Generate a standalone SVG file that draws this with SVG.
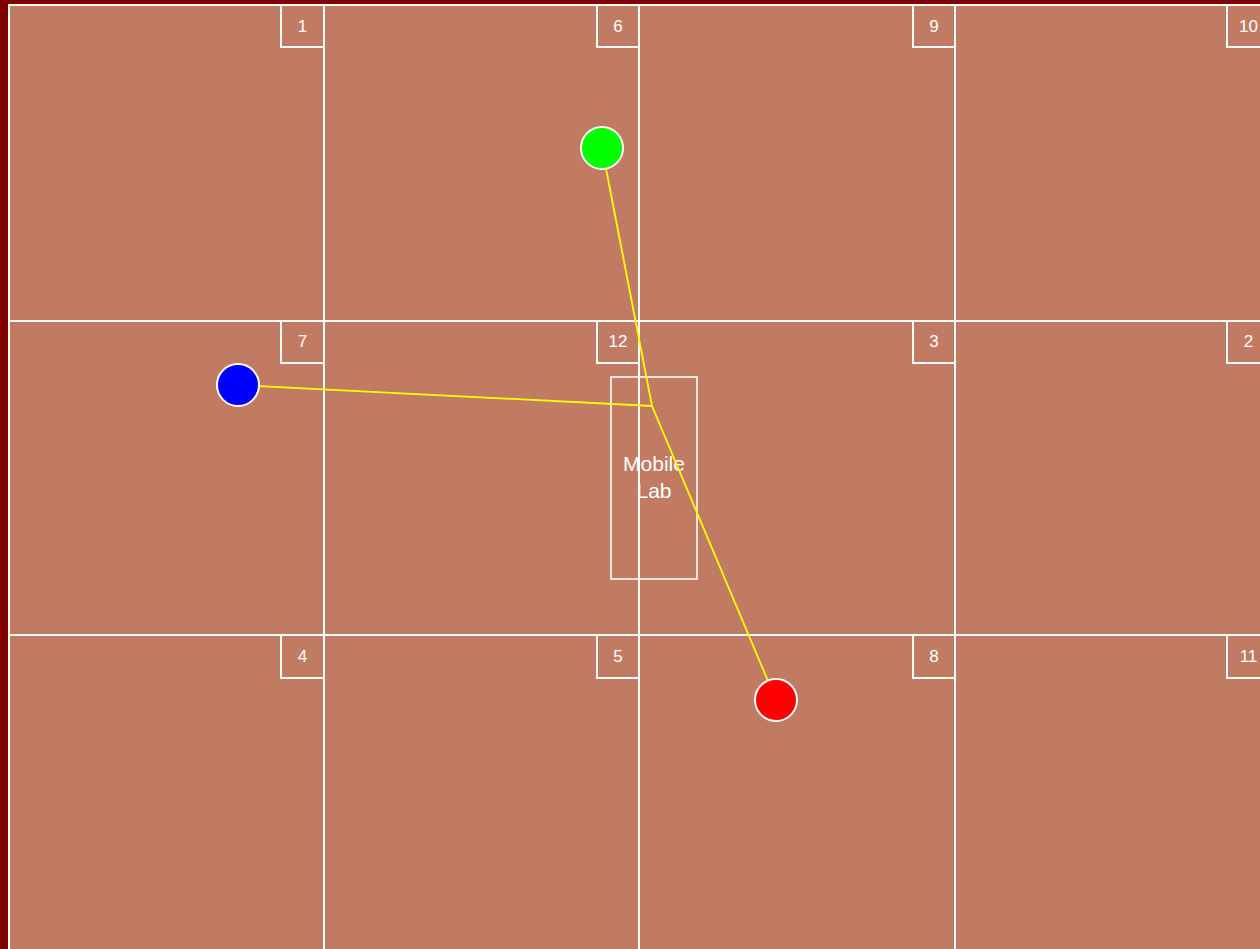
<svg xmlns="http://www.w3.org/2000/svg" width="1260" height="949" viewBox="0 0 1260 949">
<style>
.cell{fill:#C17B62;stroke:#fff;stroke-width:2}
.tag{fill:none;stroke:#fff;stroke-width:2}
.num{fill:#fff;font-family:"Liberation Sans",Arial,sans-serif;font-size:17px;text-anchor:middle}
.lab{fill:none;stroke:#fff;stroke-width:1.6}
.labt{fill:#fff;font-family:"Liberation Sans",Arial,sans-serif;font-size:21px;text-anchor:middle}
.link{stroke:#FFFF00;stroke-width:1.8;fill:none}
.dot{stroke:#fff;stroke-width:2}
</style>
<rect x="0" y="0" width="1260" height="949" fill="#800000"/>
<g id="cells">
<g id="cell1"><rect class="cell" x="9" y="5" width="315" height="316"/><rect class="tag" x="281" y="5" width="43" height="42"/><text class="num" x="302.5" y="32">1</text></g>
<g id="cell6"><rect class="cell" x="324" y="5" width="315" height="316"/><rect class="tag" x="597" y="5" width="42" height="42"/><text class="num" x="618" y="32">6</text></g>
<g id="cell9"><rect class="cell" x="639" y="5" width="316" height="316"/><rect class="tag" x="913" y="5" width="42" height="42"/><text class="num" x="934" y="32">9</text></g>
<g id="cell10"><rect class="cell" x="955" y="5" width="315" height="316"/><rect class="tag" x="1227" y="5" width="43" height="42"/><text class="num" x="1248.5" y="32">10</text></g>
<g id="cell7"><rect class="cell" x="9" y="321" width="315" height="314"/><rect class="tag" x="281" y="321" width="43" height="42"/><text class="num" x="302.5" y="347">7</text></g>
<g id="cell12"><rect class="cell" x="324" y="321" width="315" height="314"/><rect class="tag" x="597" y="321" width="42" height="42"/><text class="num" x="618" y="347">12</text></g>
<g id="cell3"><rect class="cell" x="639" y="321" width="316" height="314"/><rect class="tag" x="913" y="321" width="42" height="42"/><text class="num" x="934" y="347">3</text></g>
<g id="cell2"><rect class="cell" x="955" y="321" width="315" height="314"/><rect class="tag" x="1227" y="321" width="43" height="42"/><text class="num" x="1248.5" y="347">2</text></g>
<g id="cell4"><rect class="cell" x="9" y="635" width="315" height="320"/><rect class="tag" x="281" y="635" width="43" height="43"/><text class="num" x="302.5" y="662">4</text></g>
<g id="cell5"><rect class="cell" x="324" y="635" width="315" height="320"/><rect class="tag" x="597" y="635" width="42" height="43"/><text class="num" x="618" y="662">5</text></g>
<g id="cell8"><rect class="cell" x="639" y="635" width="316" height="320"/><rect class="tag" x="913" y="635" width="42" height="43"/><text class="num" x="934" y="662">8</text></g>
<g id="cell11"><rect class="cell" x="955" y="635" width="315" height="320"/><rect class="tag" x="1227" y="635" width="43" height="43"/><text class="num" x="1248.5" y="662">11</text></g>
</g>
<g id="mobile-lab"><rect class="lab" x="611" y="377" width="86" height="202"/><text class="labt" x="654" y="471">Mobile</text><text class="labt" x="654" y="498">Lab</text></g>
<g id="connectors">
<line class="link" x1="602" y1="148" x2="652" y2="406"/>
<line class="link" x1="238" y1="385" x2="652" y2="406"/>
<line class="link" x1="652" y1="406" x2="776" y2="700"/>
</g>
<g id="green"><circle class="dot" cx="602" cy="148" r="21" fill="#00FF00"/></g>
<g id="blue"><circle class="dot" cx="238" cy="385" r="21" fill="#0000FF"/></g>
<g id="red"><circle class="dot" cx="776" cy="700" r="21" fill="#FF0000"/></g>
</svg>
